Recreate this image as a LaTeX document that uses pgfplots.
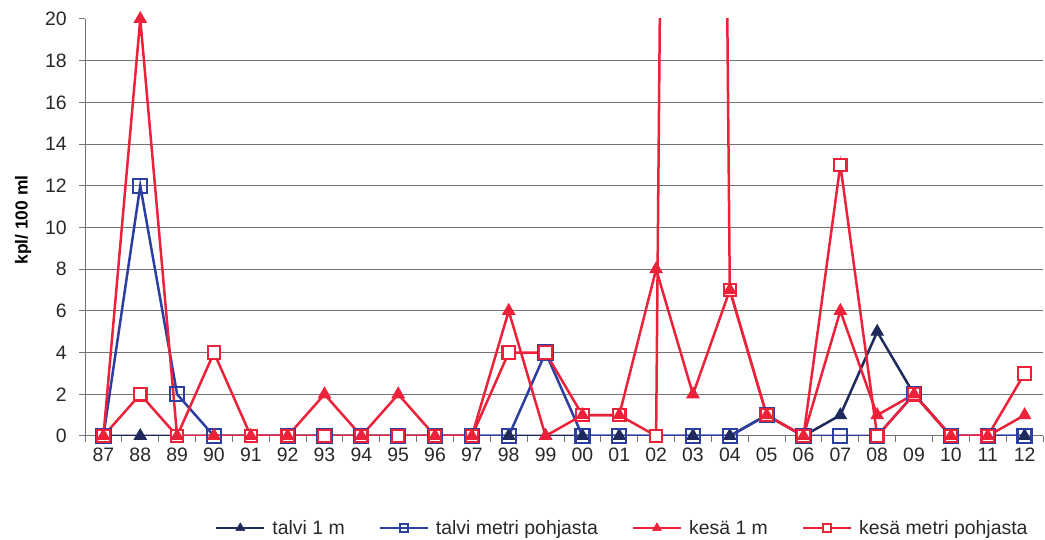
\documentclass[border=0pt]{standalone}
\usepackage{pgfplots}
\usepackage{pgfplotstable}
\pgfplotsset{compat=1.18}
\usepackage{fontspec}
\setmainfont{Liberation Sans}

\definecolor{navy}{RGB}{30,42,92}
\definecolor{sininen}{RGB}{44,62,160}
\definecolor{punainen}{RGB}{236,34,58}
\definecolor{ruudukko}{RGB}{115,115,115}
\definecolor{teksti}{RGB}{40,40,40}

% Vuodet 87-12 sijoitettu kohtiin 0..25
% talvi 1 m (02 puuttuu)
\pgfplotstableread{
x y
0 0
1 0
2 0
3 0
4 0
5 0
6 0
7 0
8 0
9 0
10 0
11 0
12 0
13 0
14 0
16 0
17 0
18 1
19 0
20 1
21 5
22 2
23 0
24 0
25 0
}\talviyksi

% talvi metri pohjasta (91 ja 02 puuttuvat)
\pgfplotstableread{
x y
0 0
1 12
2 2
3 0
5 0
6 0
7 0
8 0
9 0
10 0
11 0
12 4
13 0
14 0
16 0
17 0
18 1
19 0
20 0
21 0
22 2
23 0
24 0
25 0
}\talvipohja

% kesä 1 m
\pgfplotstableread{
x y
0 0
1 20
2 0
3 0
4 0
5 0
6 2
7 0
8 2
9 0
10 0
11 6
12 0
13 1
14 1
15 8
16 2
17 7
18 1
19 0
20 6
21 1
22 2
23 0
24 0
25 1
}\kesayksi

% kesä metri pohjasta (03 selvästi asteikon yli)
\pgfplotstableread{
x y
0 0
1 2
2 0
3 4
4 0
5 0
6 0
7 0
8 0
9 0
10 0
11 4
12 4
13 1
14 1
15 0
16 200
17 7
18 1
19 0
20 13
21 0
22 2
23 0
24 0
25 3
}\kesapohja

\begin{document}
\begin{tikzpicture}
\useasboundingbox (0,0) rectangle (1045bp,540bp);
\begin{axis}[
  at={(85bp,104bp)}, anchor=south west,
  scale only axis, width=958bp, height=417bp,
  xmin=-0.5, xmax=25.5, ymin=0, ymax=20,
  axis x line*=bottom, axis y line*=left,
  axis line style={ruudukko, line width=1bp},
  tick style={ruudukko, line width=1bp},
  tick align=outside, major tick length=6bp,
  ytick={0,2,...,20},
  xtick={-0.5,0.5,...,25.5}, xticklabels={},
  extra x ticks={0,1,...,25},
  extra x tick labels={87,88,89,90,91,92,93,94,95,96,97,98,99,00,01,02,03,04,05,06,07,08,09,10,11,12},
  extra x tick style={major tick length=0pt},
  extra y ticks={2,4,...,18}, extra y tick labels={},
  extra y tick style={ymajorgrids=true, major tick length=0pt,
    major grid style={ruudukko, line width=1bp}},
  /pgf/number format/assume math mode=true,
  ticklabel style={font=\fontsize{19.5}{20}\selectfont, text=teksti},
  yticklabel style={anchor=east, inner sep=0pt, xshift=-12bp},
  xticklabel style={anchor=base, inner sep=0pt, yshift=-26bp},
  ylabel={\bfseries kpl/ 100 ml},
  ylabel style={at={(axis description cs:-0.0647,0.518)}, anchor=center,
    font=\fontsize{17.5}{18}\selectfont, text=black},
  legend columns=4,
  legend style={at={(axis description cs:0.1357,-0.2206)}, anchor=west,
    draw=none, fill=none, inner sep=0pt,
    font=\fontsize{19.5}{20}\selectfont, text=teksti,
    nodes={inner sep=0pt, anchor=west},
    /tikz/every odd column/.append style={column sep=7bp},
    /tikz/every even column/.append style={column sep=34bp}},
  legend image code/.code={%
    \draw[#1, mark repeat=2, mark phase=2]
      plot coordinates {(0bp,0bp) (24bp,0bp) (48bp,0bp)};},
  every axis plot/.append style={line width=2.5bp},
]
% viivat ja merkit
\addplot[navy, mark=triangle*, mark size=7bp, mark options={solid, fill=navy, line width=1bp}, forget plot] table {\talviyksi};
\addplot[sininen, mark=square, mark size=7bp, mark options={solid, line width=2.2bp}, forget plot] table {\talvipohja};
\addplot[punainen, mark=square*, mark size=6.2bp, mark options={solid, fill=white, line width=2.2bp}, forget plot] table {\kesapohja};
\addplot[punainen, mark=triangle*, mark size=7bp, mark options={solid, fill=punainen, line width=1bp}, forget plot] table {\kesayksi};

% selite
\addlegendimage{navy, line width=2.2bp, mark=triangle*, mark size=5.2bp, mark options={fill=navy, line width=0.5bp}}
\addlegendentry{talvi 1 m}
\addlegendimage{sininen, line width=2.2bp, mark=square, mark size=4bp, mark options={line width=1.4bp}}
\addlegendentry{talvi metri pohjasta}
\addlegendimage{punainen, line width=2.2bp, mark=triangle*, mark size=5.2bp, mark options={fill=punainen, line width=0.5bp}}
\addlegendentry{kesä 1 m}
\addlegendimage{punainen, line width=2.2bp, mark=square*, mark size=4bp, mark options={fill=white, line width=1.4bp}}
\addlegendentry{kesä metri pohjasta}
\end{axis}
\end{tikzpicture}
\end{document}
